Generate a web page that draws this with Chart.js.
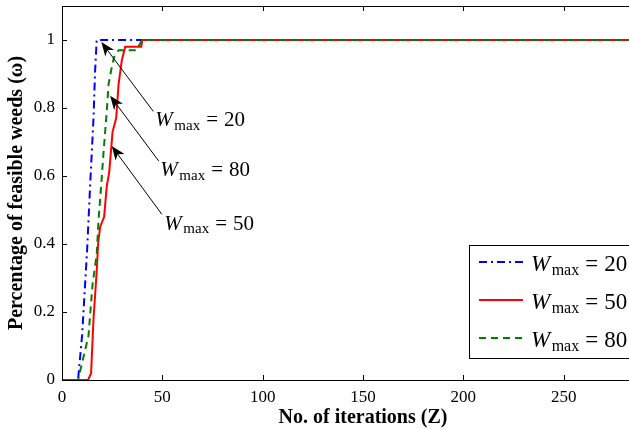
<!DOCTYPE html>
<html><head><meta charset="utf-8">
<style>
html,body{margin:0;padding:0;background:#fff;overflow:hidden;width:629px;height:429px}
#wrap{position:absolute;left:0;top:0;width:670px;height:429px}
</style>
<script src="https://cdn.jsdelivr.net/npm/chart.js@4/dist/chart.umd.min.js"></script>
</head><body><div id="wrap"><canvas id="c" width="670" height="429"></canvas></div>
<script>
// ---- data ----
const xTicks = [0, 50, 100, 150, 200, 250, 300];
const yTicks = [0, 0.2, 0.4, 0.6, 0.8, 1];
const seriesLabels = ['20', '50', '80'];
const iterW20 = [0, 8, 10, 11.5, 12.5, 14, 15.7, 16.5, 17.3, 300];
const valW20  = [0, 0, 0.13, 0.28, 0.38, 0.57, 0.77, 0.91, 1, 1];
const iterW50 = [0, 13, 14.5, 15.7, 17.3, 18, 19, 21, 22.3, 23.5, 24.5, 25.2, 27, 28.2, 29.8, 31.5, 39.5, 40, 300];
const valW50  = [0, 0, 0.02, 0.18, 0.32, 0.4, 0.45, 0.48, 0.57, 0.61, 0.68, 0.73, 0.77, 0.87, 0.94, 0.98, 0.98, 1, 1];
const iterW80 = [0, 8, 13.2, 15.2, 17.3, 18.2, 19.5, 20.7, 22.3, 23.2, 24.8, 26, 28.2, 37, 38, 40, 300];
const valW80  = [0, 0, 0.13, 0.28, 0.37, 0.47, 0.57, 0.67, 0.79, 0.87, 0.92, 0.95, 0.97, 0.97, 0.98, 1, 1];
// annotation anchors (data units): text position, arrow start, arrow tip
const annotations = [
  {label: '20', text: [46.5, 0.746], from: [45.5, 0.79], to: [19.6, 0.994]},
  {label: '80', text: [49, 0.599],  from: [48.2, 0.644], to: [24, 0.836]},
  {label: '50', text: [51, 0.442],  from: [49.8, 0.487], to: [24.8, 0.688]}
];

const pts = (xs, ys) => xs.map((x, i) => ({x: x, y: ys[i]}));
const SERIF = '"Liberation Serif", "Times New Roman", serif';
const styles = {
  '20': {color: '#0000ff', dash: [8, 4, 2, 4]},
  '50': {color: '#ff0000', dash: []},
  '80': {color: '#008000', dash: [7, 5]}
};

function drawW(ctx, x, y, val, size, sub, gap) {
  ctx.save();
  ctx.fillStyle = '#000';
  ctx.textAlign = 'left';
  ctx.textBaseline = 'alphabetic';
  ctx.font = 'italic ' + size + 'px ' + SERIF;
  ctx.fillText('W', x, y);
  x += ctx.measureText('W').width + 1.5;
  ctx.font = sub + 'px ' + SERIF;
  ctx.fillText('max', x, y + size * 0.17);
  x += ctx.measureText('max').width + gap;
  ctx.font = size + 'px ' + SERIF;
  ctx.fillText('=', x, y);
  x += ctx.measureText('=').width + gap;
  ctx.fillText(val, x, y);
  ctx.restore();
}

function drawArrow(ctx, x0, y0, x1, y1) {
  const ang = Math.atan2(y1 - y0, x1 - x0);
  const len = 14, half = 5.5, notch = 4;
  const bx = x1 - len * Math.cos(ang), by = y1 - len * Math.sin(ang);
  ctx.save();
  ctx.strokeStyle = '#000';
  ctx.lineWidth = 1;
  ctx.beginPath();
  ctx.moveTo(x0, y0);
  ctx.lineTo(bx + notch * Math.cos(ang), by + notch * Math.sin(ang));
  ctx.stroke();
  ctx.fillStyle = '#000';
  ctx.beginPath();
  ctx.moveTo(x1, y1);
  ctx.lineTo(bx + half * Math.sin(ang), by - half * Math.cos(ang));
  ctx.lineTo(bx + notch * Math.cos(ang), by + notch * Math.sin(ang));
  ctx.lineTo(bx - half * Math.sin(ang), by + half * Math.cos(ang));
  ctx.closePath();
  ctx.fill();
  ctx.restore();
}

const decor = {
  id: 'decor',
  beforeDraw(chart) {
    const ctx = chart.ctx;
    ctx.save();
    ctx.fillStyle = '#fff';
    ctx.fillRect(0, 0, chart.width, chart.height);
    ctx.restore();
  },
  afterDraw(chart) {
    const ctx = chart.ctx, a = chart.chartArea;
    const xs = chart.scales.x, ys = chart.scales.y;
    ctx.save();
    // top border and inward ticks
    ctx.strokeStyle = '#000';
    ctx.lineWidth = 1;
    ctx.beginPath();
    ctx.moveTo(a.left, a.top + 0.5);
    ctx.lineTo(a.right, a.top + 0.5);
    xTicks.forEach(v => {
      const p = Math.round(xs.getPixelForValue(v)) + 0.5;
      ctx.moveTo(p, a.bottom); ctx.lineTo(p, a.bottom - 5);
      ctx.moveTo(p, a.top); ctx.lineTo(p, a.top + 5);
    });
    yTicks.forEach(v => {
      const p = Math.round(ys.getPixelForValue(v)) + 0.5;
      ctx.moveTo(a.left, p); ctx.lineTo(a.left + 5, p);
    });
    ctx.stroke();

    // axis titles
    ctx.fillStyle = '#000';
    ctx.font = 'bold 20px ' + SERIF;
    ctx.textAlign = 'center';
    ctx.textBaseline = 'middle';
    ctx.fillText('No. of iterations (Z)', (a.left + a.right) / 2, 418);
    ctx.save();
    ctx.translate(17, (a.top + a.bottom) / 2);
    ctx.rotate(-Math.PI / 2);
    ctx.fillText('Percentage of feasible weeds (\u03c9)', 0, 0);
    ctx.restore();

    // annotations
    annotations.forEach(an => {
      drawArrow(ctx, xs.getPixelForValue(an.from[0]), ys.getPixelForValue(an.from[1]),
                     xs.getPixelForValue(an.to[0]), ys.getPixelForValue(an.to[1]));
      drawW(ctx, xs.getPixelForValue(an.text[0]), ys.getPixelForValue(an.text[1]), an.label, 21, 15, 6);
    });

    // legend
    const lx = 469.5, ly = 245.5, lw = 220, lh = 113;
    ctx.fillStyle = '#fff';
    ctx.fillRect(lx, ly, lw, lh);
    ctx.strokeStyle = '#000';
    ctx.lineWidth = 1;
    ctx.strokeRect(lx, ly, lw, lh);
    const rows = [262, 300, 338];
    seriesLabels.forEach((lab, i) => {
      const st = styles[lab];
      ctx.save();
      ctx.strokeStyle = st.color;
      ctx.lineWidth = 2;
      ctx.setLineDash(st.dash);
      ctx.beginPath();
      ctx.moveTo(479, rows[i]);
      ctx.lineTo(523, rows[i]);
      ctx.stroke();
      ctx.restore();
      drawW(ctx, 531, rows[i] + 9, lab, 23, 16, 6);
    });
    ctx.restore();
  }
};

const mk = (lab, xs, ys, order) => ({
  label: lab, data: pts(xs, ys), borderColor: styles[lab].color, borderDash: styles[lab].dash,
  borderWidth: 2, pointRadius: 0, tension: 0, fill: false, order: order
});

const fitX = s => { s.height = 49; s.paddingLeft = 0; s.paddingRight = 0; s.paddingTop = 0; s.paddingBottom = 0; };
const fitY = s => { s.width = 62; s.paddingLeft = 0; s.paddingRight = 0; s.paddingTop = 0; s.paddingBottom = 0; };

new Chart(document.getElementById('c'), {
  type: 'line',
  data: {datasets: [
    mk('20', iterW20, valW20, 2),
    mk('50', iterW50, valW50, 1),
    mk('80', iterW80, valW80, 0)
  ]},
  options: {
    responsive: false, animation: false, devicePixelRatio: 1,
    layout: {padding: {top: 6, right: 6, left: 0, bottom: 0}},
    plugins: {legend: {display: false}, tooltip: {enabled: false}},
    scales: {
      x: {
        type: 'linear', min: 0, max: 300,
        afterBuildTicks: s => { s.ticks = xTicks.map(v => ({value: v})); },
        afterFit: fitX,
        grid: {display: false, drawTicks: false},
        border: {display: true, color: '#000', width: 1},
        ticks: {color: '#000', padding: 7, maxRotation: 0, autoSkip: false,
                font: {family: SERIF, size: 17}}
      },
      y: {
        type: 'linear', min: 0, max: 1.1,
        afterBuildTicks: s => { s.ticks = yTicks.map(v => ({value: v})); },
        afterFit: fitY,
        grid: {display: false, drawTicks: false},
        border: {display: true, color: '#000', width: 1},
        ticks: {color: '#000', padding: 7, autoSkip: false,
                font: {family: SERIF, size: 17},
                callback: v => (v === 0 ? '0' : v === 1 ? '1' : v.toFixed(1))}
      }
    }
  },
  plugins: [decor]
});
</script></body></html>
